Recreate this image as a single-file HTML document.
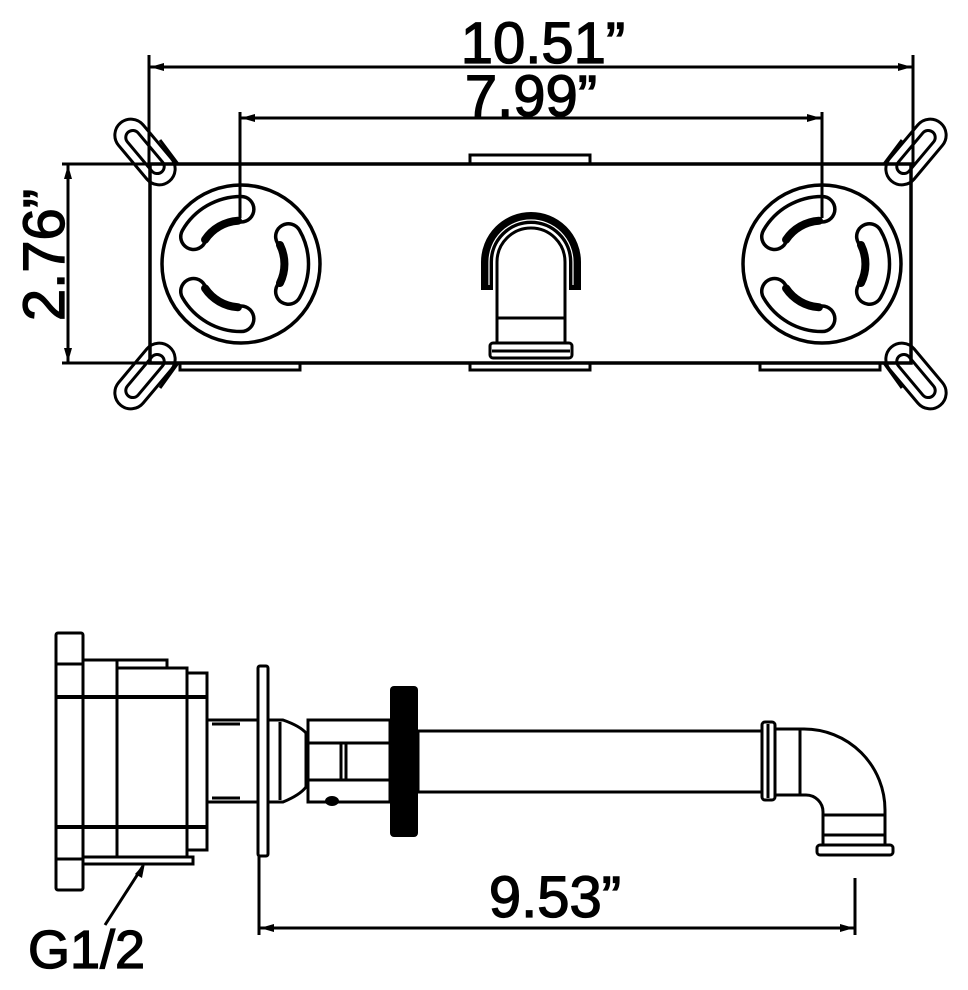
<!DOCTYPE html>
<html><head><meta charset="utf-8"><style>
html,body{margin:0;padding:0;background:#fff;}
svg{display:block;}
text{font-family:"Liberation Sans",Arial,sans-serif;fill:#000;stroke:#000;stroke-width:1.3;}
</style></head><body>
<svg width="968" height="990" viewBox="0 0 968 990" xmlns="http://www.w3.org/2000/svg">
<g fill="none" stroke="#000" stroke-width="3">
<!-- 10.51 dimension -->
<line x1="149" y1="55" x2="149" y2="166"/>
<line x1="913" y1="55" x2="913" y2="166"/>
<line x1="149" y1="67" x2="913" y2="67"/>
<!-- 7.99 -->
<line x1="240" y1="112" x2="240" y2="215"/>
<line x1="822" y1="112" x2="822" y2="215"/>
<line x1="240" y1="118" x2="822" y2="118"/>
<!-- 2.76 -->
<line x1="62" y1="164" x2="150" y2="164"/>
<line x1="62" y1="363" x2="150" y2="363"/>
<line x1="68" y1="164" x2="68" y2="363"/>
<!-- body -->
<rect x="150" y="164" width="761" height="199" stroke-width="3.5"/>
<rect x="470" y="155" width="120" height="9"/>
<rect x="180" y="363" width="120" height="7"/>
<rect x="470" y="363" width="120" height="7"/>
<rect x="760" y="363" width="120" height="7"/>
<!-- ears -->
<g transform="translate(145,152) rotate(50)"><rect x="-38" y="-16" width="76" height="32" rx="16"/><rect x="-26" y="-7" width="52" height="14" rx="7"/></g>
<g transform="translate(145,376) rotate(-50)"><rect x="-38" y="-16" width="76" height="32" rx="16"/><rect x="-26" y="-7" width="52" height="14" rx="7"/></g>
<g transform="translate(916,152) rotate(-50)"><rect x="-38" y="-16" width="76" height="32" rx="16"/><rect x="-26" y="-7" width="52" height="14" rx="7"/></g>
<g transform="translate(916,376) rotate(50)"><rect x="-38" y="-16" width="76" height="32" rx="16"/><rect x="-26" y="-7" width="52" height="14" rx="7"/></g>
<line x1="160" y1="140" x2="178" y2="164"/>
<line x1="160" y1="388" x2="178" y2="363"/>
<line x1="902" y1="140" x2="884" y2="164"/>
<line x1="902" y1="388" x2="884" y2="363"/>
<!-- circles -->
<circle cx="241" cy="264" r="79" stroke-width="3.5"/>
<circle cx="822" cy="264" r="79" stroke-width="3.5"/>
</g>
<!-- slots -->
<g>
<g transform="translate(241,264)">
<g transform="rotate(240)"><path d="M47.4,-27.5 A55,55 0 0 1 47.4,27.5" stroke="#000" stroke-width="29" stroke-linecap="round" fill="none"/><path d="M47.4,-27.5 A55,55 0 0 1 47.4,27.5" stroke="#fff" stroke-width="22" stroke-linecap="round" fill="none"/><path d="M39,-19 A43,43 0 0 1 39,19" stroke="#000" stroke-width="8" stroke-linecap="round" fill="none"/></g>
<g transform="rotate(0)"><path d="M47.4,-27.5 A55,55 0 0 1 47.4,27.5" stroke="#000" stroke-width="29" stroke-linecap="round" fill="none"/><path d="M47.4,-27.5 A55,55 0 0 1 47.4,27.5" stroke="#fff" stroke-width="22" stroke-linecap="round" fill="none"/><path d="M39,-19 A43,43 0 0 1 39,19" stroke="#000" stroke-width="8" stroke-linecap="round" fill="none"/></g>
<g transform="rotate(120)"><path d="M47.4,-27.5 A55,55 0 0 1 47.4,27.5" stroke="#000" stroke-width="29" stroke-linecap="round" fill="none"/><path d="M47.4,-27.5 A55,55 0 0 1 47.4,27.5" stroke="#fff" stroke-width="22" stroke-linecap="round" fill="none"/><path d="M39,-19 A43,43 0 0 1 39,19" stroke="#000" stroke-width="8" stroke-linecap="round" fill="none"/></g>
</g>
<g transform="translate(822,264)">
<g transform="rotate(240)"><path d="M47.4,-27.5 A55,55 0 0 1 47.4,27.5" stroke="#000" stroke-width="29" stroke-linecap="round" fill="none"/><path d="M47.4,-27.5 A55,55 0 0 1 47.4,27.5" stroke="#fff" stroke-width="22" stroke-linecap="round" fill="none"/><path d="M39,-19 A43,43 0 0 1 39,19" stroke="#000" stroke-width="8" stroke-linecap="round" fill="none"/></g>
<g transform="rotate(0)"><path d="M47.4,-27.5 A55,55 0 0 1 47.4,27.5" stroke="#000" stroke-width="29" stroke-linecap="round" fill="none"/><path d="M47.4,-27.5 A55,55 0 0 1 47.4,27.5" stroke="#fff" stroke-width="22" stroke-linecap="round" fill="none"/><path d="M39,-19 A43,43 0 0 1 39,19" stroke="#000" stroke-width="8" stroke-linecap="round" fill="none"/></g>
<g transform="rotate(120)"><path d="M47.4,-27.5 A55,55 0 0 1 47.4,27.5" stroke="#000" stroke-width="29" stroke-linecap="round" fill="none"/><path d="M47.4,-27.5 A55,55 0 0 1 47.4,27.5" stroke="#fff" stroke-width="22" stroke-linecap="round" fill="none"/><path d="M39,-19 A43,43 0 0 1 39,19" stroke="#000" stroke-width="8" stroke-linecap="round" fill="none"/></g>
</g>
</g>
<line x1="240" y1="112" x2="240" y2="218" stroke="#000" stroke-width="3"/>
<line x1="822" y1="112" x2="822" y2="218" stroke="#000" stroke-width="3"/>
<!-- spout top view -->
<path d="M487,290 L487,262 A44,44 0 0 1 575,262 L575,290" fill="none" stroke="#000" stroke-width="12"/>
<path d="M489,285 L489,262 A42,42 0 0 1 573,262 L573,285" fill="none" stroke="#fff" stroke-width="1.2"/>
<g fill="none" stroke="#000" stroke-width="3">
<path d="M497,343 L497,262 A34,34 0 0 1 565,262 L565,343"/>
<line x1="497" y1="318" x2="565" y2="318"/>
<line x1="497" y1="343" x2="565" y2="343"/>
<rect x="490" y="343" width="82" height="15" rx="3"/>
<line x1="492" y1="351" x2="570" y2="351"/>
</g>
<!-- arrowheads top -->
<g fill="#000">
<polygon points="150,67 164,63 164,71"/><polygon points="912,67 898,63 898,71"/>
<polygon points="241,118 255,114 255,122"/><polygon points="821,118 807,114 807,122"/>
<polygon points="68,165 64,179 72,179"/><polygon points="68,362 64,348 72,348"/>
</g>
<text x="543" y="63" font-size="58" text-anchor="middle">10.51”</text>
<text x="531" y="116" font-size="58" text-anchor="middle">7.99”</text>
<text transform="translate(64,255) rotate(-90)" font-size="58" text-anchor="middle">2.76”</text>

<!-- side view -->
<g fill="none" stroke="#000" stroke-width="3">
<rect x="56" y="633" width="27" height="257" rx="2"/>
<line x1="56" y1="664" x2="83" y2="664"/>
<line x1="56" y1="859" x2="83" y2="859"/>
<line x1="56" y1="697" x2="207" y2="697" stroke-width="4"/>
<line x1="56" y1="827" x2="207" y2="827" stroke-width="4"/>
<rect x="83" y="660" width="34" height="197"/>
<rect x="117" y="668" width="70" height="189"/>
<rect x="117" y="660" width="50" height="8"/>
<rect x="187" y="673" width="20" height="177"/>
<rect x="83" y="857" width="110" height="7"/>
<rect x="207" y="720" width="51" height="82"/>
<line x1="212" y1="724" x2="240" y2="724"/>
<line x1="212" y1="798" x2="240" y2="798"/>
<rect x="258" y="666" width="10" height="190" rx="2"/>
<line x1="259" y1="856" x2="259" y2="935"/>
<path d="M268,720 L283,720 Q300,726 306,733 L306,787 Q300,795 283,802 L268,802"/>
<line x1="280" y1="722" x2="280" y2="800"/>
<rect x="308" y="720" width="82" height="82"/>
<line x1="308" y1="743" x2="390" y2="743"/>
<line x1="308" y1="780" x2="390" y2="780"/>
<line x1="341" y1="743" x2="341" y2="780"/>
<line x1="346" y1="743" x2="346" y2="780"/>
<rect x="418" y="731" width="344" height="61"/>
<rect x="762" y="722" width="13" height="78" rx="3"/>
<line x1="768" y1="724" x2="768" y2="798"/>
<rect x="775" y="729" width="25" height="66"/>
<path d="M800,729 L804,729 A81,81 0 0 1 885,810 L885,845"/>
<path d="M800,795 L806,795 A17,17 0 0 1 823,812 L823,845"/>
<line x1="823" y1="815" x2="885" y2="815"/>
<line x1="823" y1="835" x2="885" y2="835"/>
<rect x="817" y="845" width="76" height="10" rx="3"/>
<line x1="855" y1="878" x2="855" y2="935"/>
<line x1="259" y1="928" x2="855" y2="928"/>
<line x1="105" y1="925" x2="143" y2="866"/>
</g>
<rect x="390" y="686" width="28" height="151" rx="4" fill="#000"/>
<ellipse cx="332" cy="801" rx="7" ry="5" fill="#000"/>
<g fill="#000">
<polygon points="260,928 274,924 274,932"/><polygon points="854,928 840,924 840,932"/>
<polygon points="145,863 142,878 135,874"/>
</g>
<text x="555" y="917" font-size="58" text-anchor="middle">9.53”</text>
<text x="28" y="968" font-size="54">G1/2</text>
</svg>
</body></html>
